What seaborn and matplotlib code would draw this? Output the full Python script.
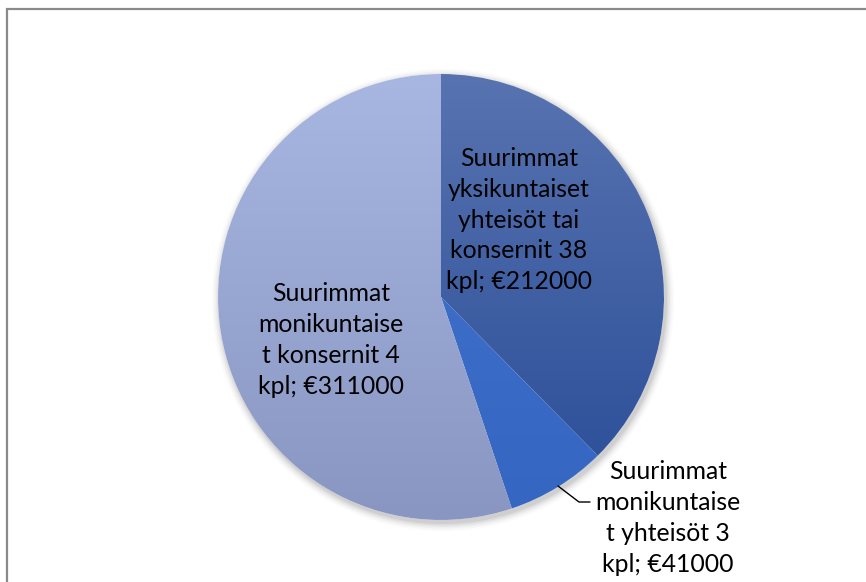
import numpy as np
import matplotlib
matplotlib.use("Agg")
import matplotlib.pyplot as plt
import seaborn as sns
from matplotlib.colors import LinearSegmentedColormap
from matplotlib.patches import Rectangle

sns.set_theme(style="white")
plt.rcParams['font.family'] = ['Lato', 'DejaVu Sans']

categories = [
    "Suurimmat\nyksikuntaiset\nyhteisöt tai\nkonsernit 38\nkpl; €212000",
    "Suurimmat\nmonikuntaise\nt yhteisöt 3\nkpl; €41000",
    "Suurimmat\nmonikuntaise\nt konsernit 4\nkpl; €311000",
]
values = [212000, 41000, 311000]
top_colors = ["#5873B0", "#4473CC", "#A8B6E2"]
bottom_colors = ["#284C97", "#3466C2", "#8996C2"]

W, H = 866, 582
fig = plt.figure(figsize=(W / 100, H / 100), dpi=100)
ax = fig.add_axes([0, 0, 1, 1])
ax.set_xlim(0, W)
ax.set_ylim(0, H)
ax.axis("off")

# chart border
ax.add_patch(Rectangle((6.5, -20), W + 40, H - 8.5 + 20, fill=False,
                       edgecolor="#8a8a8a", linewidth=1.6, zorder=0))

cx, cy, r = 441, H - 297, 223

# soft shadow
for i, a in enumerate(np.linspace(0.05, 0.01, 6)):
    circ = plt.Circle((cx + 2, cy - 3), r + 1 + i * 1.5, color="black", alpha=a, lw=0, zorder=1)
    ax.add_patch(circ)

wedges, _ = ax.pie(values, startangle=90, counterclock=False, center=(cx, cy),
                   radius=r, wedgeprops=dict(linewidth=0, zorder=2),
                   colors=["white"] * 3, frame=True)
ax.set_xlim(0, W)
ax.set_ylim(0, H)
ax.set_aspect("equal")
ax.axis("off")

grad = np.linspace(0, 1, 256).reshape(-1, 1)
for w, tc, bc in zip(wedges, top_colors, bottom_colors):
    cmap = LinearSegmentedColormap.from_list("g", [bc, tc])
    im = ax.imshow(grad, cmap=cmap, origin="lower", aspect="auto",
                   extent=(cx - r, cx + r, cy - r, cy + r), zorder=3)
    im.set_clip_path(w)

ax.set_xlim(0, W)
ax.set_ylim(0, H)

fs = 17.8
ls = 1.41
ax.text(519, H - 220, categories[0], ha="center", va="center", fontsize=fs,
        linespacing=ls, color="black", zorder=5)
ax.text(331, H - 340, categories[2], ha="center", va="center", fontsize=fs,
        linespacing=ls, color="black", zorder=5)
ax.text(668, H - 518, categories[1], ha="center", va="center", fontsize=fs,
        linespacing=ls, color="black", zorder=5)
ax.plot([558, 579, 590], [H - 486, H - 502, H - 502], color="black", lw=1, zorder=5)

fig.savefig("out.png", dpi=100)
